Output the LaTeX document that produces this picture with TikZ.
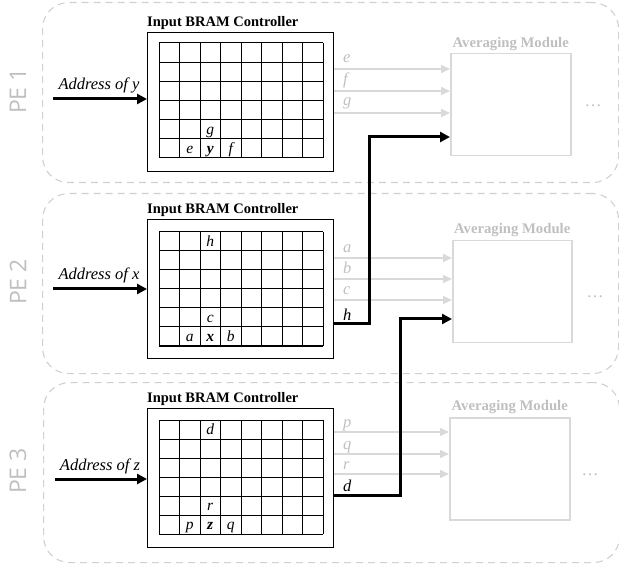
\documentclass[tikz,border=0pt]{standalone}
\usepackage{fontspec}
\setmainfont{Liberation Serif}
\newfontfamily\pefont{Open Sans}
\usetikzlibrary{arrows.meta}
\definecolor{lgray}{HTML}{D9D9D9}
\definecolor{tgray}{HTML}{BFBFBF}
\definecolor{dgray}{HTML}{D0D0D0}
\newcommand\bramgrid[3]{% name, top, bottom
  \foreach \i in {0,...,8}{\draw[gridln] ({159+\i*20.5},#2) -- ({159+\i*20.5},#3);}
  \foreach \j in {0,...,6}{\draw[gridln] (159,{#2+\j*(#3-#2)/6}) -- (323,{#2+\j*(#3-#2)/6});}
}
\newcommand\celllbl[6]{% name, top, bottom, col, row, text
  \node[cellt] (#1) at ({159+(#4-0.5)*20.5},{#2+(#5-0.5)*(#3-#2)/6+4.8}) {#6};
}
\begin{document}
\begin{tikzpicture}[x=1pt,y=-1pt,
  pebox/.style={draw=dgray, line width=1.1pt, dash pattern=on 7pt off 5pt, rounded corners=26pt, anchor=north west, inner sep=0, minimum width=576pt, minimum height=180pt},
  pelbl/.style={text=tgray, font=\pefont\fontsize{23}{24}\selectfont, rotate=90, inner sep=0},
  ctrl/.style={draw, line width=1.4pt, minimum width=186pt, minimum height=139pt, anchor=north west, inner sep=0},
  ctitle/.style={font=\fontsize{14.5}{16}\selectfont\bfseries, anchor=base west, inner sep=0},
  gridln/.style={line width=1pt},
  cellt/.style={font=\fontsize{15.5}{17}\selectfont\itshape, anchor=base, inner sep=0},
  addr/.style={line width=3pt, -{Triangle[length=10pt,width=10pt]}},
  addrt/.style={font=\fontsize{16.5}{18}\selectfont\itshape, anchor=base, inner sep=0},
  glink/.style={draw=lgray, line width=1.5pt, -{Triangle[length=9pt,width=8pt]}},
  glbl/.style={text=tgray, font=\fontsize{16.5}{18}\selectfont\itshape, anchor=base west, inner sep=0},
  blbl/.style={font=\fontsize{16.5}{18}\selectfont\itshape, anchor=base west, inner sep=0},
  amod/.style={draw=lgray, line width=1.5pt, anchor=north west, inner sep=0, minimum height=102pt},
  amtitle/.style={text=tgray, font=\fontsize{14.7}{16}\selectfont\bfseries, anchor=base, inner sep=0},
  dotst/.style={text=tgray, font=\fontsize{17}{18}\selectfont, anchor=base, inner sep=0},
  blink/.style={line width=3pt, -{Triangle[length=10pt,width=10pt]}}
]
\useasboundingbox (0,0) rectangle (619,564);

% ---------------- PE 1 ----------------
\node[pebox] (pe1) at (42,2) {};
\node[pelbl] (pe1l) at (18,91) {PE 1};
\node[ctrl] (c1) at (147,32) {};
\node[ctitle] (c1t) at (147,26.5) {Input BRAM Controller};
\bramgrid{g1}{43}{158}
\celllbl{g1g}{43}{158}{3}{5}{g}
\celllbl{g1e}{43}{158}{2}{6}{e}
\celllbl{g1y}{43}{158}{3}{6}{\bfseries y}
\celllbl{g1f}{43}{158}{4}{6}{f}
\coordinate (in1) at (53,99);
\draw[addr] (in1) -- (in1 -| c1.west);
\node[addrt] (in1t) at (99,89.5) {Address of y};
\node[amod, minimum width=120pt] (am1) at (450,53) {};
\node[amtitle] (am1t) at ([yshift=5.5pt]am1.north) {Averaging Module};
\draw[glink] (c1.east |- 0,69) -- (am1.west |- 0,69);
\draw[glink] (c1.east |- 0,91) -- (am1.west |- 0,91);
\draw[glink] (c1.east |- 0,113) -- (am1.west |- 0,113);
\node[glbl] (l1e) at (343,63) {e};
\node[glbl] (l1f) at (343,85) {f};
\node[glbl] (l1g) at (343,106) {g};
\node[dotst] (d1) at (593,107) {\dots};

% ---------------- PE 2 ----------------
\node[pebox] (pe2) at (42,193) {};
\node[pelbl] (pe2l) at (18,282) {PE 2};
\node[ctrl] (c2) at (147,219) {};
\node[ctitle] (c2t) at (147,213.5) {Input BRAM Controller};
\bramgrid{g2}{232}{346}
\celllbl{g2h}{232}{346}{3}{1}{h}
\celllbl{g2c}{232}{346}{3}{5}{c}
\celllbl{g2a}{232}{346}{2}{6}{a}
\celllbl{g2x}{232}{346}{3}{6}{\bfseries x}
\celllbl{g2b}{232}{346}{4}{6}{b}
\coordinate (in2) at (53,289);
\draw[addr] (in2) -- (in2 -| c2.west);
\node[addrt] (in2t) at (99,279.5) {Address of x};
\node[amod, minimum width=119pt] (am2) at (452,240) {};
\node[amtitle] (am2t) at ([yshift=6pt]am2.north) {Averaging Module};
\draw[glink] (c2.east |- 0,258) -- (am2.west |- 0,258);
\draw[glink] (c2.east |- 0,279) -- (am2.west |- 0,279);
\draw[glink] (c2.east |- 0,300) -- (am2.west |- 0,300);
\node[glbl] (l2a) at (343,253) {a};
\node[glbl] (l2b) at (343,274) {b};
\node[glbl] (l2c) at (343,295) {c};
\node[blbl] (l2h) at (343,320) {h};
\node[dotst] (d2) at (595,298) {\dots};

% ---------------- PE 3 ----------------
\node[pebox] (pe3) at (43,382) {};
\node[pelbl] (pe3l) at (18,471) {PE 3};
\node[ctrl] (c3) at (147,408) {};
\node[ctitle] (c3t) at (147,402.5) {Input BRAM Controller};
\bramgrid{g3}{420}{534}
\celllbl{g3d}{420}{534}{3}{1}{d}
\celllbl{g3r}{420}{534}{3}{5}{r}
\celllbl{g3p}{420}{534}{2}{6}{p}
\celllbl{g3z}{420}{534}{3}{6}{\bfseries z}
\celllbl{g3q}{420}{534}{4}{6}{q}
\coordinate (in3) at (55,479);
\draw[addr] (in3) -- (in3 -| c3.west);
\node[addrt] (in3t) at (100,470) {Address of z};
\node[amod, minimum width=120pt] (am3) at (449,417) {};
\node[amtitle] (am3t) at ([yshift=7pt]am3.north) {Averaging Module};
\draw[glink] (c3.east |- 0,432) -- (am3.west |- 0,432);
\draw[glink] (c3.east |- 0,454) -- (am3.west |- 0,454);
\draw[glink] (c3.east |- 0,474) -- (am3.west |- 0,474);
\node[glbl] (l3p) at (343,427) {p};
\node[glbl] (l3q) at (343,449) {q};
\node[glbl] (l3r) at (343,469) {r};
\node[blbl] (l3d) at (343,491) {d};
\node[dotst] (d3) at (590,475) {\dots};

% ---------------- cross connectors ----------------
\coordinate (b2a) at (369,324);
\coordinate (b2b) at (369,137);
\draw[blink, line join=miter] (c2.east |- b2a) -- (b2a) -- (b2b) -- (am1.west |- b2b);
\coordinate (b3a) at (400,495);
\coordinate (b3b) at (400,319);
\draw[blink, line join=miter] (c3.east |- b3a) -- (b3a) -- (b3b) -- (am2.west |- b3b);
\end{tikzpicture}
\end{document}
